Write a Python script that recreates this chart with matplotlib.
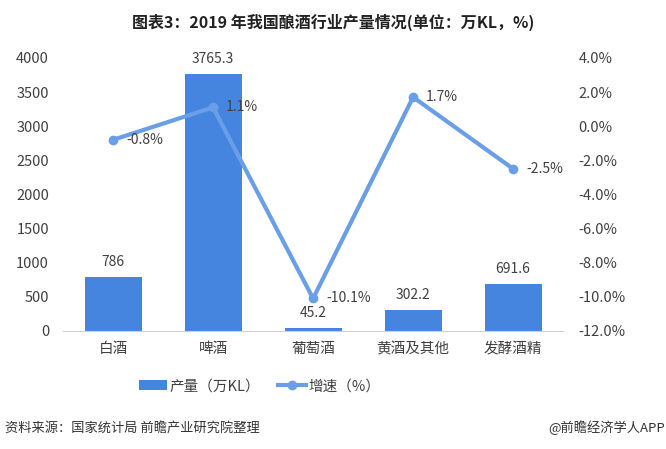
import matplotlib.pyplot as plt
import numpy as np

plt.rcParams['font.family'] = ['Noto Sans CJK SC', 'DejaVu Sans']

categories = ['白酒', '啤酒', '葡萄酒', '黄酒及其他', '发酵酒精']
output = [786, 3765.3, 45.2, 302.2, 691.6]
output_labels = ['786', '3765.3', '45.2', '302.2', '691.6']
growth = [-0.8, 1.1, -10.1, 1.7, -2.5]
growth_labels = ['-0.8%', '1.1%', '-10.1%', '1.7%', '-2.5%']

bar_color = '#4585e0'
line_color = '#6a9fe8'
text_color = '#404040'

fig = plt.figure(figsize=(6.66, 4.49), dpi=100)
ax = fig.add_axes([0.0946, 0.263, 0.751, 0.608])
x = np.arange(len(categories))

ax.bar(x, output, width=0.57, color=bar_color, zorder=2, label='产量（万KL）')
for xi, v, s in zip(x, output, output_labels):
    ax.text(xi, v + 120, s, ha='center', va='bottom', fontsize=10, color=text_color)

ax.set_xlim(-0.5, len(categories) - 0.5)
ax.set_ylim(0, 4000)
ax.set_yticks(np.arange(0, 4001, 500))
ax.set_xticks(x)
ax.set_xticklabels(categories, fontsize=10.5, color=text_color)
ax.tick_params(axis='y', labelsize=10.5, colors=text_color, length=0, pad=10)
ax.tick_params(axis='x', length=0, pad=8)
for sp in ['top', 'right', 'left']:
    ax.spines[sp].set_visible(False)
ax.spines['bottom'].set_color('#d0d0d0')

ax2 = ax.twinx()
ax2.plot(x, growth, color=line_color, lw=3, marker='o', ms=6, zorder=3, label='增速（%）')
for xi, v, s in zip(x, growth, growth_labels):
    ax2.text(xi + 0.13, v, s, ha='left', va='center', fontsize=10, color=text_color)
ax2.set_ylim(-12, 4)
ax2.set_yticks(np.arange(-12, 4.1, 2))
ax2.set_yticklabels([f'{t:.1f}%' for t in np.arange(-12, 4.1, 2)])
ax2.tick_params(axis='y', labelsize=10.5, colors=text_color, length=0, pad=11)
for sp in ['top', 'right', 'left', 'bottom']:
    ax2.spines[sp].set_visible(False)

h1, l1 = ax.get_legend_handles_labels()
h2, l2 = ax2.get_legend_handles_labels()
fig.legend(h1 + h2, l1 + l2, loc='center', bbox_to_anchor=(0.39, 0.14), ncol=2,
           frameon=False, fontsize=10.5, handlelength=1.9, handletextpad=0.2,
           columnspacing=1.2, labelcolor=text_color)

fig.text(0.5, 0.951, '图表3：2019 年我国酿酒行业产量情况(单位：万KL，%)', ha='center', va='center',
         fontsize=11.5, fontweight='bold', color='#222222')
fig.text(0.008, 0.047, '资料来源：国家统计局 前瞻产业研究院整理', ha='left', va='center',
         fontsize=9.5, color='#333333')
fig.text(0.998, 0.047, '@前瞻经济学人APP', ha='right', va='center',
         fontsize=9.5, color='#333333')

fig.savefig('out.png', dpi=100)
